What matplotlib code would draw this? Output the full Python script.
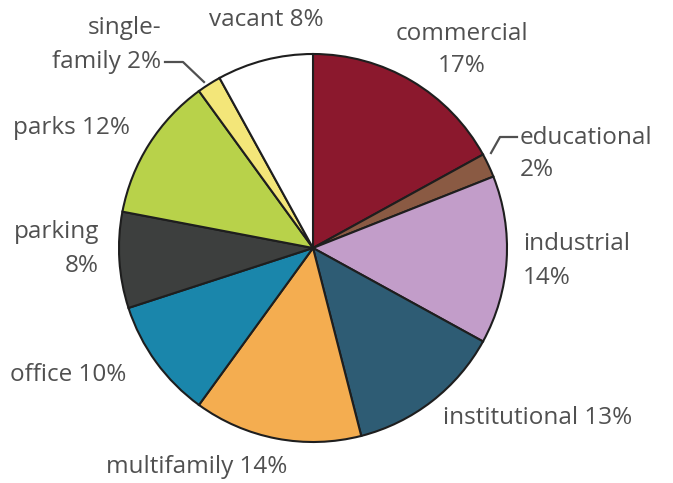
import matplotlib.pyplot as plt

categories = ['commercial', 'educational', 'industrial', 'institutional', 'multifamily',
              'office', 'parking', 'parks', 'single-family', 'vacant']
values = [17, 2, 14, 13, 14, 10, 8, 12, 2, 8]
colors = ['#8b182d', '#8a5a43', '#c29dc9', '#2e5c74', '#f4ad50',
          '#1a86ab', '#3d3f3e', '#b8d24a', '#f3e679', '#ffffff']
labels = ['commercial\n17%', 'educational\n2%', 'industrial\n14%', 'institutional 13%',
          'multifamily 14%', 'office 10%', 'parking\n8%', 'parks 12%',
          'single-\nfamily 2%', 'vacant 8%']

W, H = 673, 483
# label layout in pixel coords (x, y from top, alignment)
label_pos = [(462, 50, 'center'), (520, 154, 'left'), (523, 261, 'left'),
             (443, 418, 'left'), (106, 467, 'left'), (10, 375, 'left'),
             (99, 249, 'right'), (13, 128, 'left'), (161, 45, 'right'),
             (266, 20, 'center')]

plt.rcParams['font.family'] = ['Open Sans', 'DejaVu Sans']
fig = plt.figure(figsize=(W / 100, H / 100), dpi=100)
ax = fig.add_axes([0, 0, 1, 1])

ax.pie(values, colors=colors, startangle=90, counterclock=False,
       radius=194, center=(313, H - 248),
       wedgeprops=dict(edgecolor='#1e1e1e', linewidth=1.5))

txt_color = '#505050'
for lab, (x, y, ha) in zip(labels, label_pos):
    ax.text(x, H - y, lab, ha=ha, va='center', fontsize=17.5, color=txt_color,
            linespacing=1.5)

# leader lines for the two small slices
ax.plot([165, 183, 204], [H - 62, H - 62, H - 82], color=txt_color, lw=1.6)
ax.plot([517, 500, 491], [H - 137, H - 137, H - 153], color=txt_color, lw=1.6)

ax.set_xlim(0, W)
ax.set_ylim(0, H)
ax.axis('off')
fig.savefig('out.png', dpi=100)
